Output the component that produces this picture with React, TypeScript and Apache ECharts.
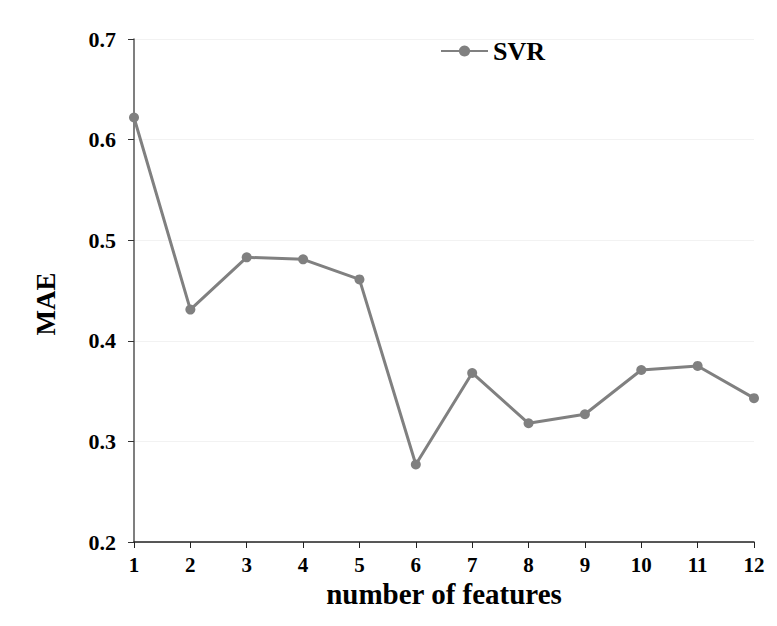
import React, { useEffect, useRef } from "react";
import * as echarts from "echarts";

// Mean absolute error of the SVR model as features are added
const featureCounts = ["1", "2", "3", "4", "5", "6", "7", "8", "9", "10", "11", "12"];
const svrMae = [0.622, 0.431, 0.483, 0.481, 0.461, 0.277, 0.368, 0.318, 0.327, 0.371, 0.375, 0.343];
const yTicks = { min: 0.2, max: 0.7, step: 0.1 };

const FONT = '"Liberation Serif", "Times New Roman", serif';

export default function App() {
  const ref = useRef<HTMLDivElement>(null);

  useEffect(() => {
    if (!ref.current) return;
    const chart = echarts.init(ref.current, null, { renderer: "svg" });
    chart.setOption({
      animation: false,
      backgroundColor: "#ffffff",
      grid: { left: 134, right: 23, top: 39, bottom: 84, containLabel: false },
      legend: {
        data: ["SVR"],
        left: 435,
        top: 33,
        itemWidth: 47,
        itemHeight: 14,
        textStyle: { fontFamily: FONT, fontWeight: "bold", fontSize: 26, color: "#000" },
      },
      graphic: [
        {
          type: "text",
          x: 46,
          y: 304,
          rotation: Math.PI / 2,
          style: {
            text: "MAE",
            fontFamily: FONT,
            fontWeight: "bold",
            fontSize: 27,
            fill: "#000",
            align: "center",
            verticalAlign: "middle",
          },
        },
      ],
      xAxis: {
        type: "category",
        data: featureCounts,
        boundaryGap: false,
        name: "number of features",
        nameLocation: "middle",
        nameGap: 37,
        nameTextStyle: { fontFamily: FONT, fontWeight: "bold", fontSize: 29, color: "#000" },
        axisLine: { lineStyle: { color: "#222", width: 1.5 } },
        axisTick: { show: true, length: 6, alignWithLabel: true, lineStyle: { color: "#222" } },
        axisLabel: { fontFamily: FONT, fontWeight: "bold", fontSize: 21, color: "#000", margin: 12 },
        splitLine: { show: false },
      },
      yAxis: {
        type: "value",
        min: yTicks.min,
        max: yTicks.max,
        interval: yTicks.step,
        axisLine: { show: true, lineStyle: { color: "#555", width: 1.5 } },
        axisTick: { show: true, length: 6, lineStyle: { color: "#333" } },
        axisLabel: {
          fontFamily: FONT,
          fontWeight: "bold",
          fontSize: 22,
          color: "#000",
          margin: 18,
          formatter: (v: number) => v.toFixed(1),
        },
        splitLine: { show: true, lineStyle: { color: "#f2f2f2", width: 1 } },
      },
      series: [
        {
          name: "SVR",
          type: "line",
          data: svrMae,
          symbol: "circle",
          symbolSize: 10,
          showSymbol: true,
          lineStyle: { color: "#808080", width: 3 },
          itemStyle: { color: "#808080" },
        },
      ],
    });
    return () => chart.dispose();
  }, []);

  return (
    <div
      ref={ref}
      style={{ position: "fixed", left: 0, top: 0, width: 777, height: 626 }}
    />
  );
}
